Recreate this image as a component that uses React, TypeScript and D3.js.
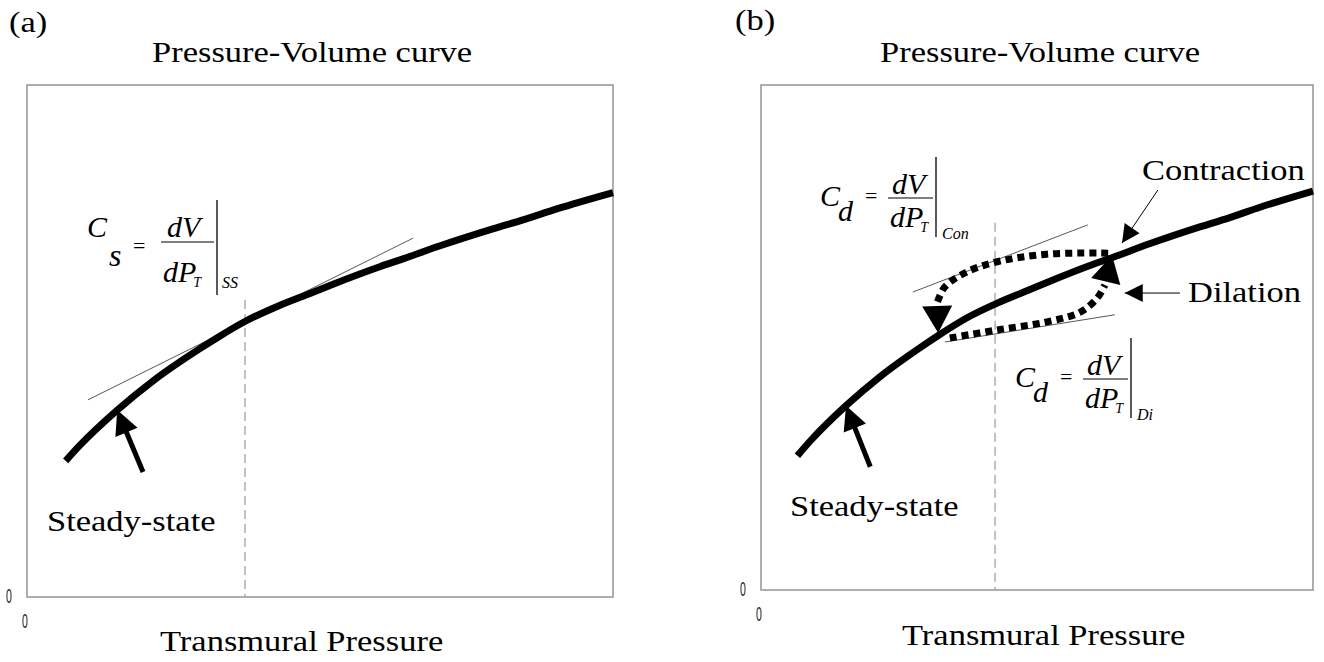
import React from "react";
import * as d3 from "d3";

// ---------- data (arbitrary units, 0-100 on both axes) ----------
const pressure = [6.6, 9, 15.5, 21.5, 29.5, 32.4, 37.5, 42.8, 48.3, 51.8, 60.2, 63.8, 70.5, 79.5, 84.8, 90.4, 100];
const volume = [26.6, 29.6, 36.6, 42.2, 48.5, 50.6, 54.0, 56.8, 59.3, 60.9, 64.5, 65.9, 68.6, 71.9, 73.7, 75.8, 79.0];

const tangentSSP = [10.4, 65.9];
const tangentSSV = [38.5, 70.1];
const tangentConP = [27.5, 59.2];
const tangentConV = [59.0, 72.3];
const tangentDiP = [33.3, 64.1];
const tangentDiV = [49.1, 54.5];

const steadyArrowP = [19.8, 15.4];
const steadyArrowV = [24.4, 36.5];

const contractionP = [62.9, 51.8, 42.8, 37.3, 33.3, 31.9, 32.1];
const contractionV = [66.7, 66.5, 65.0, 63.0, 60.0, 56.8, 50.9];
const dilationP = [34.2, 42.8, 51.8, 57.8, 60.9, 62.3, 63.6];
const dilationV = [49.9, 51.5, 53.1, 55.0, 57.8, 60.4, 66.3];

const pointerConP = [71.9, 65.4];
const pointerConV = [79.2, 68.7];
const pointerDiP = [75.9, 65.9];
const pointerDiV = [58.8, 58.8];

const markerSSP = 37.2;
const markerSSTop = 58;
const markerDynP = 42.4;
const markerDynTop = 72.7;

const tickLabels = ["0"];
const panelLabels = ["(a)", "(b)"];
const titleText = "Pressure-Volume curve";
const xAxisTitle = "Transmural Pressure";

// ---------- layout ----------
const W = 1324;
const H = 662;
const SERIF = "Liberation Serif, Times New Roman, serif";
const SX = 1.15;

type Pt = [number, number];

function headPoints(tip: Pt, from: Pt, len: number, half: number): string {
  const dx = tip[0] - from[0];
  const dy = tip[1] - from[1];
  const d = Math.hypot(dx, dy) || 1;
  const ux = dx / d, uy = dy / d;
  const bx = tip[0] - ux * len, by = tip[1] - uy * len;
  const px = -uy, py = ux;
  return `${tip[0]},${tip[1]} ${bx + px * half},${by + py * half} ${bx - px * half},${by - py * half}`;
}

function SText({ x, y, size = 30, children }: { x: number; y: number; size?: number; children: React.ReactNode }) {
  return (
    <text transform={`translate(${x},${y}) scale(${SX},1)`} fontFamily={SERIF} fontSize={size} fill="#000">
      {children}
    </text>
  );
}

type FormulaLayout = {
  cY: number; sub: string; subX: number; subY: number; subSize: number;
  eqX: number; eqY: number; numX: number; numY: number; barX0: number; barX1: number;
  denX: number; denY: number; tDy: number; vX: number; vY0: number; vY1: number;
  labX: number; labY: number;
};

function Formula({ left, barY, L, label }: { left: number; barY: number; L: FormulaLayout; label: string }) {
  const it = { fontFamily: SERIF, fontStyle: "italic" as const, fill: "#000" };
  return (
    <g>
      <text x={left} y={barY + L.cY} fontSize={30} {...it}>C</text>
      <text x={left + L.subX} y={barY + L.subY} fontSize={L.subSize} {...it}>{L.sub}</text>
      <text x={left + L.eqX} y={barY + L.eqY} fontSize={22} fontFamily={SERIF}>=</text>
      <text x={left + L.numX} y={barY + L.numY} fontSize={30} {...it}>dV</text>
      <line x1={left + L.barX0} x2={left + L.barX1} y1={barY} y2={barY} stroke="#000" strokeWidth={1.2} />
      <text x={left + L.denX} y={barY + L.denY} fontSize={30} {...it}>
        dP<tspan fontSize={14} dx={-3} dy={L.tDy}>T</tspan>
      </text>
      <line x1={left + L.vX} x2={left + L.vX} y1={barY + L.vY0} y2={barY + L.vY1} stroke="#000" strokeWidth={1.3} />
      <text x={left + L.labX} y={barY + L.labY} fontSize={16} {...it}>{label}</text>
    </g>
  );
}

const layoutA: FormulaLayout = {
  cY: -5, sub: "s", subX: 22, subY: 24, subSize: 32, eqX: 46, eqY: 11, numX: 80, numY: -5,
  barX0: 74, barX1: 127, denX: 76, denY: 40, tDy: 5, vX: 130, vY0: -42, vY1: 53, labX: 135, labY: 46,
};
const layoutB: FormulaLayout = {
  cY: 8, sub: "d", subX: 18, subY: 23, subSize: 30, eqX: 45, eqY: 5, numX: 72, numY: -4,
  barX0: 68, barX1: 113, denX: 70, denY: 29, tDy: 5, vX: 116, vY0: -41, vY1: 39, labX: 122, labY: 41,
};

type PanelCfg = {
  idx: number; left: number; right: number; top: number; bottom: number;
  labelX: number; labelY: number; titleX: number; titleY: number; axisX: number; axisY: number;
  steadyX: number; steadyY: number;
};

function Panel({ cfg }: { cfg: PanelCfg }) {
  const x = d3.scaleLinear().domain([0, 100]).range([cfg.left, cfg.right]);
  const y = d3.scaleLinear().domain([0, 100]).range([cfg.bottom, cfg.top]);
  const pts = (ps: number[], vs: number[]): Pt[] => ps.map((p, i) => [x(p), y(vs[i])] as Pt);
  const curve = d3.line<Pt>().curve(d3.curveMonotoneX)(pts(pressure, volume)) || "";
  const smooth = d3.line<Pt>().curve(d3.curveCatmullRom.alpha(0.5));
  const isB = cfg.idx === 1;

  const steady = pts(steadyArrowP, steadyArrowV);
  const sTail = steady[0], sTip = steady[1];
  const sLen = 24;
  const sd = Math.hypot(sTip[0] - sTail[0], sTip[1] - sTail[1]);
  const sBase: Pt = [sTip[0] - (sTip[0] - sTail[0]) / sd * (sLen - 2), sTip[1] - (sTip[1] - sTail[1]) / sd * (sLen - 2)];

  const loop = (ps: number[], vs: number[]) => {
    const p = pts(ps, vs);
    const tip = p[p.length - 1];
    const prev = p[p.length - 2];
    return (
      <g>
        <path d={smooth(p.slice(0, -1)) || ""} fill="none" stroke="#000" strokeWidth={7} strokeDasharray="7 5" />
        <polygon points={headPoints(tip, prev, 27, 15)} fill="#000" />
      </g>
    );
  };

  const pointer = (ps: number[], vs: number[]) => {
    const p = pts(ps, vs);
    return (
      <g>
        <line x1={p[0][0]} y1={p[0][1]} x2={p[1][0]} y2={p[1][1]} stroke="#000" strokeWidth={1} />
        <polygon points={headPoints(p[1], p[0], 18, 9)} fill="#000" />
      </g>
    );
  };

  const markerP = isB ? markerDynP : markerSSP;
  const markerTop = isB ? markerDynTop : markerSSTop;

  return (
    <g>
      <SText x={cfg.labelX} y={cfg.labelY}>{panelLabels[cfg.idx]}</SText>
      <SText x={cfg.titleX} y={cfg.titleY}>{titleText}</SText>
      <rect x={cfg.left} y={cfg.top} width={cfg.right - cfg.left} height={cfg.bottom - cfg.top}
        fill="none" stroke="#9a9a9a" strokeWidth={1.6} />
      <line x1={x(markerP)} x2={x(markerP)} y1={y(markerTop)} y2={y(0)} stroke="#a8a8a8" strokeWidth={1.4} strokeDasharray="9 5" />
      {!isB && (
        <line x1={x(tangentSSP[0])} y1={y(tangentSSV[0])} x2={x(tangentSSP[1])} y2={y(tangentSSV[1])} stroke="#444" strokeWidth={0.9} />
      )}
      {isB && (
        <g>
          <line x1={x(tangentConP[0])} y1={y(tangentConV[0])} x2={x(tangentConP[1])} y2={y(tangentConV[1])} stroke="#444" strokeWidth={0.9} />
          <line x1={x(tangentDiP[0])} y1={y(tangentDiV[0])} x2={x(tangentDiP[1])} y2={y(tangentDiV[1])} stroke="#444" strokeWidth={0.9} />
        </g>
      )}
      <path d={curve} fill="none" stroke="#000" strokeWidth={7} strokeLinejoin="round" />
      {isB && loop(contractionP, contractionV)}
      {isB && loop(dilationP, dilationV)}
      {isB && pointer(pointerConP, pointerConV)}
      {isB && pointer(pointerDiP, pointerDiV)}
      <line x1={sTail[0]} y1={sTail[1]} x2={sBase[0]} y2={sBase[1]} stroke="#000" strokeWidth={5} />
      <polygon points={headPoints(sTip, sTail, sLen, 12)} fill="#000" />
      <SText x={cfg.steadyX} y={cfg.steadyY}>Steady-state</SText>
      {isB && <SText x={1142} y={180}>Contraction</SText>}
      {isB && <SText x={1188} y={302}>Dilation</SText>}
      {!isB && <Formula left={87} barY={242} L={layoutA} label="SS" />}
      {isB && <Formula left={820} barY={198} L={layoutB} label="Con" />}
      {isB && <Formula left={1015} barY={379} L={layoutB} label="Di" />}
      <text transform={`translate(${cfg.left - 18},${cfg.bottom - 1}) scale(0.5,1)`} fontFamily="Liberation Sans, sans-serif"
        fontSize={21} textAnchor="middle" dominantBaseline="central" fill="#222">{tickLabels[0]}</text>
      <text transform={`translate(${cfg.left - 2},${cfg.bottom + 24}) scale(0.5,1)`} fontFamily="Liberation Sans, sans-serif"
        fontSize={21} textAnchor="middle" dominantBaseline="central" fill="#222">{tickLabels[0]}</text>
      <SText x={cfg.axisX} y={cfg.axisY}>{xAxisTitle}</SText>
    </g>
  );
}

const panelCfgs: PanelCfg[] = [
  { idx: 0, left: 27, right: 613, top: 85, bottom: 597, labelX: 9, labelY: 32, titleX: 152, titleY: 62,
    axisX: 160, axisY: 651, steadyX: 47, steadyY: 531 },
  { idx: 1, left: 761, right: 1313, top: 85, bottom: 590, labelX: 735, labelY: 30, titleX: 880, titleY: 62,
    axisX: 902, axisY: 645, steadyX: 790, steadyY: 516 },
];

export default function App() {
  return (
    <svg width={W} height={H} style={{ position: "absolute", left: 0, top: 0, background: "#fff" }}>
      <rect x={0} y={0} width={W} height={H} fill="#fff" />
      {panelCfgs.map((c) => <Panel key={c.idx} cfg={c} />)}
    </svg>
  );
}
